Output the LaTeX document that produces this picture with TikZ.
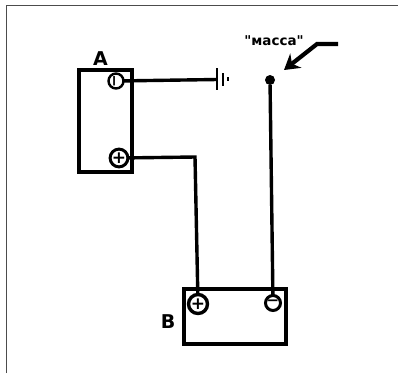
\documentclass[tikz,border=0pt]{standalone}
\usepackage{fontspec}
\setmainfont{DejaVu Sans}
\newfontfamily\massafont{DejaVu Sans}
\usetikzlibrary{arrows.meta,positioning}
\tikzset{
  batt/.style={draw,line width=4pt,rectangle,inner sep=0pt,outer sep=0pt},
  term/.style={draw,line width=3pt,circle,fill=white,inner sep=0pt,outer sep=0pt,font=\bfseries\fontsize{17}{17}\selectfont},
  wire/.style={line width=3.4pt,line join=miter},
  lbl/.style={inner sep=0pt,font=\bfseries\fontsize{19}{19}\selectfont}
}
\begin{document}
\begin{tikzpicture}[x=1pt,y=-1pt]
      \useasboundingbox (0,0) rectangle (398,373);
      \fill[white] (0,0) rectangle (398,373);
      \coordinate (frame_b) at (6,373);
      \coordinate (frame_c) at (6,5.5);
      \coordinate (frame_r) at (398,5.5);
      \draw[line width=1pt,black!70] (frame_b) -- (frame_c) -- (frame_r);
      \node[batt,minimum width=53pt,minimum height=102pt]  (box_a)   at (105.5,121)  {};
      \node[batt,minimum width=102pt,minimum height=55pt]  (box_b)   at (235,316.5)  {};
      \node[term,minimum size=15pt,line width=2.4pt]       (a_neg)   at (116,81)     {\rotatebox{90}{\fontsize{15}{15}\selectfont−}};
      \node[term,minimum size=17pt]                        (a_pos)   at (119,158)    {+};
      \node[term,minimum size=19pt,line width=3.4pt]       (b_pos)   at (198,304)    {+};
      \node[term,minimum size=15pt,font=\bfseries\fontsize{15}{15}\selectfont] (b_neg) at (273,303) {−};
      \node[lbl]                                           (lbl_a)   at (100.5,59)   {A};
      \node[lbl]                                           (lbl_b)   at (168,322)    {B};
      \node[inner sep=0pt,font=\massafont\bfseries\fontsize{13.5}{13.5}\selectfont] (lbl_m) at (274,40.5) {"масса"};
      \node[circle,fill=black,minimum size=10pt,inner sep=0pt,outer sep=0pt] (dot) at (270,80) {};
      \coordinate (gnd) at (217,79.5);
      \coordinate (bend) at (195,157);
      \coordinate (g1a) at (217,68);
      \coordinate (g1b) at (217,90);
      \coordinate (g2a) at (223,73);
      \coordinate (g2b) at (223,86);
      \coordinate (g3a) at (228,77);
      \coordinate (g3b) at (228,81);
      \coordinate (arr_s) at (338,44);
      \coordinate (arr_k) at (317,44);
      \coordinate (arr_e) at (284,70);
      \draw[wire] (a_neg) -- (gnd);
      \draw[wire] (a_pos) -- (bend) -- (b_pos);
      \draw[wire] (dot) -- (b_neg);
      \draw[line width=1.8pt] (g1a) -- (g1b);
      \draw[line width=1.8pt] (g2a) -- (g2b);
      \draw[line width=2pt] (g3a) -- (g3b);
      \draw[line width=4.2pt,-{Stealth[length=15pt,width=18pt]}] (arr_s) -- (arr_k) -- (arr_e);
\end{tikzpicture}
\end{document}
